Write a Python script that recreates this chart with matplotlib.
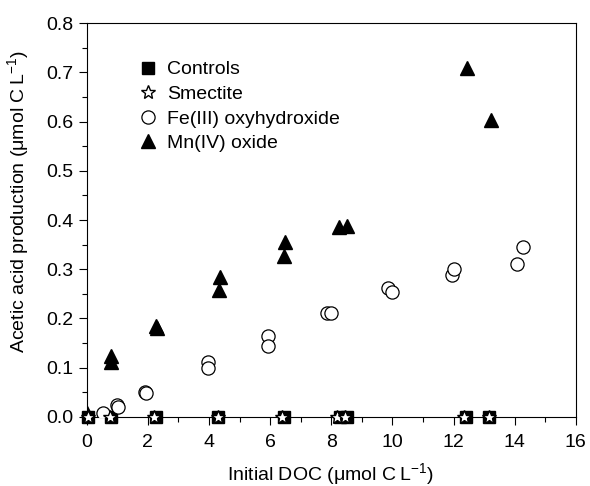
import matplotlib.pyplot as plt
from matplotlib.ticker import MultipleLocator

plt.rcParams['font.family'] = ['Liberation Sans', 'DejaVu Sans']
plt.rcParams['mathtext.fontset'] = 'custom'
plt.rcParams['mathtext.rm'] = 'Liberation Sans'
plt.rcParams['mathtext.it'] = 'Liberation Sans:italic'

# controls and smectite sit at zero production
ctrl_x = [0.05, 0.8, 2.25, 4.3, 6.45, 8.3, 8.5, 12.4, 13.15]
ctrl_y = [0, 0, 0, 0, 0, 0, 0, 0, 0]
smec_x = [0.05, 0.75, 2.2, 4.3, 6.4, 8.2, 8.45, 12.35, 13.15]
smec_y = [0, 0, 0, 0, 0, 0, 0, 0, 0]

fe_x = [0.52, 1.0, 1.02, 1.9, 1.93, 3.97, 3.97, 5.93, 5.93, 7.87, 8.0,
        9.86, 9.97, 11.96, 12.01, 14.08, 14.28]
fe_y = [0.008, 0.024, 0.02, 0.051, 0.048, 0.111, 0.099, 0.164, 0.143,
        0.21, 0.21, 0.261, 0.254, 0.288, 0.301, 0.311, 0.346]

mn_x = [0.0, 0.8, 0.8, 2.27, 2.3, 4.36, 4.33, 6.49, 6.45, 8.25, 8.5, 12.43, 13.21]
mn_y = [0.008, 0.123, 0.111, 0.185, 0.18, 0.284, 0.257, 0.356, 0.327,
        0.386, 0.388, 0.709, 0.603]

fig = plt.figure(figsize=(5.9, 4.86), dpi=100)
ax = fig.add_axes([0.147, 0.1426, 0.829, 0.8094])

ax.plot(ctrl_x, ctrl_y, 's', color='black', ms=8, ls='none', label='Controls', clip_on=False, zorder=3)
ax.plot(smec_x, smec_y, '*', mfc='white', mec='black', mew=1.0, ms=10, ls='none',
        label='Smectite', clip_on=False, zorder=4)
ax.plot(fe_x, fe_y, 'o', mfc='white', mec='black', mew=0.9, ms=9.5, ls='none',
        label='Fe(III) oxyhydroxide', zorder=3)
ax.plot(mn_x, mn_y, '^', color='black', ms=10, ls='none', label='Mn(IV) oxide', zorder=3)

ax.set_xlim(0, 16)
ax.set_ylim(0, 0.8)
ax.xaxis.set_major_locator(MultipleLocator(2))
ax.xaxis.set_minor_locator(MultipleLocator(1))
ax.yaxis.set_minor_locator(MultipleLocator(0.05))
ax.set_yticks([0, 0.1, 0.2, 0.3, 0.4, 0.5, 0.6, 0.7, 0.8])
ax.set_yticklabels(['0.0', '0.1', '0.2', '0.3', '0.4', '0.5', '0.6', '0.7', '0.8'])
ax.tick_params(which='major', direction='out', length=5.8, width=0.8, labelsize=14,
               top=False, right=False)
ax.tick_params(which='minor', direction='out', length=3.6, width=0.8, top=False, right=False)
ax.tick_params(axis='x', which='major', pad=7)
ax.tick_params(axis='y', which='major', pad=4)

ax.set_xlabel('Initial DOC (μmol C\u2009L$^{-1}$)', fontsize=14)
ax.set_ylabel('Acetic acid production (μmol C\u2009L$^{-1}$)', fontsize=14)
ax.xaxis.set_label_coords(0.499, -0.112)
ax.yaxis.set_label_coords(-0.113, 0.548)

ax.legend(loc='upper left', bbox_to_anchor=(0.105, 0.905), frameon=False, fontsize=14,
          handletextpad=0.5, labelspacing=0.36, borderaxespad=0, borderpad=0,
          handlelength=1.0)

plt.savefig('out.png', dpi=100)
